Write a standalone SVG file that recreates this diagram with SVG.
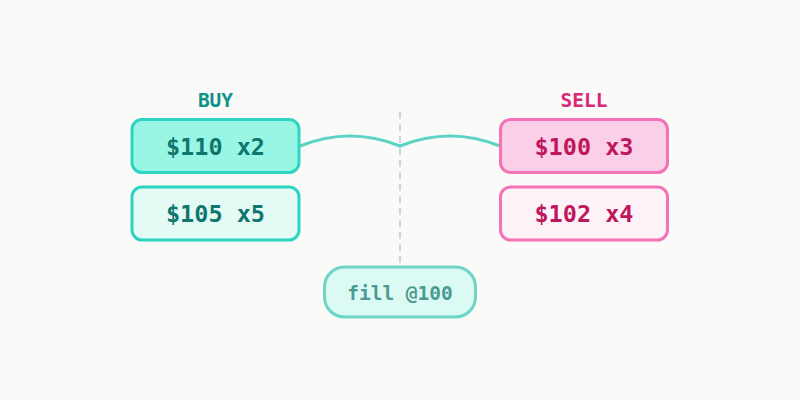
<svg xmlns="http://www.w3.org/2000/svg" width="800" height="400" viewBox="0 0 800 400">
  <style>
    .lbl { font-family: "DejaVu Sans Mono", "Liberation Mono", monospace; font-weight: bold; text-anchor: middle; }
    .price { font-size: 23.5px; }
    .head { font-size: 19.5px; }
    .buy rect { stroke: #2dd4bf; stroke-width: 3; }
    .buy text { fill: #0f766e; }
    .sell rect { stroke: #f472b6; stroke-width: 3; }
    .sell text { fill: #be185d; }
  </style>
  <rect width="800" height="400" fill="#fafaf9"/>
  <g id="connectors">
    <line x1="400" y1="112" x2="400" y2="266" stroke="#cbd5e1" stroke-width="2" stroke-dasharray="7 5"/>
    <path d="M300,146 Q350,126 400,146 Q450,126 500,146" fill="none" stroke="#5fd3c3" stroke-width="3"/>
  </g>
  <g id="buy-label"><text class="lbl head" x="215.5" y="107" fill="#0d9488">BUY</text></g>
  <g id="sell-label"><text class="lbl head" x="584" y="107" fill="#db2777">SELL</text></g>
  <g id="buy1" class="buy">
    <rect x="132" y="119.5" width="167" height="53" rx="10" fill="#99f6e4"/>
    <text class="lbl price" x="215.5" y="154.5">$110 x2</text>
  </g>
  <g id="buy2" class="buy">
    <rect x="132" y="187" width="167" height="53" rx="10" fill="#e4fbf5"/>
    <text class="lbl price" x="215.5" y="222">$105 x5</text>
  </g>
  <g id="sell1" class="sell">
    <rect x="500.5" y="119.5" width="167" height="53" rx="10" fill="#fbcfe8"/>
    <text class="lbl price" x="584" y="154.5">$100 x3</text>
  </g>
  <g id="sell2" class="sell">
    <rect x="500.5" y="187" width="167" height="53" rx="10" fill="#fdf2f8"/>
    <text class="lbl price" x="584" y="222">$102 x4</text>
  </g>
  <g id="fill">
    <rect x="324.5" y="267" width="151" height="50" rx="20" fill="#dcfaf4" stroke="#6dd5c6" stroke-width="3"/>
    <text class="lbl" x="400" y="299.5" font-size="19.5" fill="#4d9a92">fill @100</text>
  </g>
</svg>
